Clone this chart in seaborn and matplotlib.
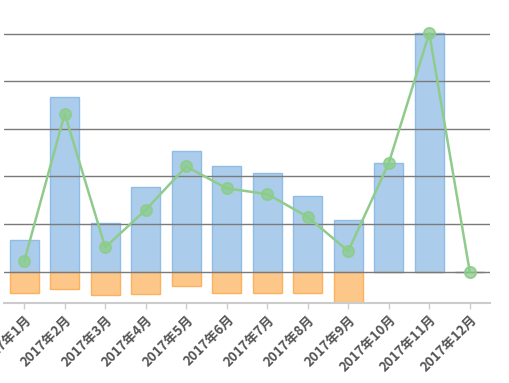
import matplotlib
matplotlib.use("Agg")
import matplotlib.pyplot as plt
import seaborn as sns
import numpy as np
import pandas as pd

months = ["2017年1月", "2017年2月", "2017年3月", "2017年4月", "2017年5月", "2017年6月",
          "2017年7月", "2017年8月", "2017年9月", "2017年10月", "2017年11月", "2017年12月"]
positive = [0.67, 3.68, 1.02, 1.78, 2.53, 2.21, 2.07, 1.60, 1.09, 2.28, 5.01, 0.0]
negative = [-0.45, -0.36, -0.50, -0.47, -0.31, -0.45, -0.45, -0.45, -0.66, 0.0, 0.0, 0.0]
net = [0.22, 3.32, 0.51, 1.30, 2.21, 1.75, 1.63, 1.15, 0.43, 2.28, 5.01, 0.0]

sns.set_theme(style="white")
plt.rcParams['font.family'] = ['Noto Sans CJK SC', 'DejaVu Sans']

df = pd.DataFrame({"month": months, "pos": positive, "neg": negative, "net": net})

fig = plt.figure(figsize=(5.10, 3.83), dpi=100)
ax = fig.add_axes([4 / 510, (383 - 303) / 383, (490 - 4) / 510, (303 - 10) / 383])

sns.barplot(data=df, x="month", y="pos", color="#abcdeb", edgecolor="#8fbde6",
            linewidth=1, width=0.72, saturation=1, ax=ax)
sns.barplot(data=df, x="month", y="neg", color="#fdc789", edgecolor="#fbb25e",
            linewidth=1, width=0.72, saturation=1, ax=ax)
sns.pointplot(data=df, x="month", y="net", color="#8fcc8c", markers="o",
              markersize=8, linewidth=1.8, ax=ax)
for ln in ax.lines:
    ln.set_zorder(5)
    ln.set_markerfacecolor((0.55, 0.8, 0.54, 0.75))
    ln.set_markeredgecolor((0.55, 0.8, 0.54, 0.9))
    ln.set_clip_on(False)

ax.set_xlim(-0.5, 11.5)
ax.set_ylim(-0.66, 5.5)
ax.set_yticks([0, 1, 2, 3, 4, 5])
ax.set_yticklabels([])
ax.tick_params(axis='y', length=0)
ax.set_axisbelow(False)
ax.yaxis.grid(True, color="#7a7a7a", linewidth=1, zorder=3)
ax.xaxis.grid(False)

for s in ["top", "right", "left"]:
    ax.spines[s].set_visible(False)
ax.spines["bottom"].set_color("#cccccc")
ax.spines["bottom"].set_linewidth(1.5)

ax.set_xlabel("")
ax.set_ylabel("")
ax.tick_params(axis='x', length=4, width=1, color="#cccccc", pad=3, bottom=True)
plt.setp(ax.get_xticklabels(), rotation=45, ha="right", rotation_mode="anchor",
         fontsize=9.5, color="#555555", fontweight="bold")

fig.savefig("out.png", dpi=100)
